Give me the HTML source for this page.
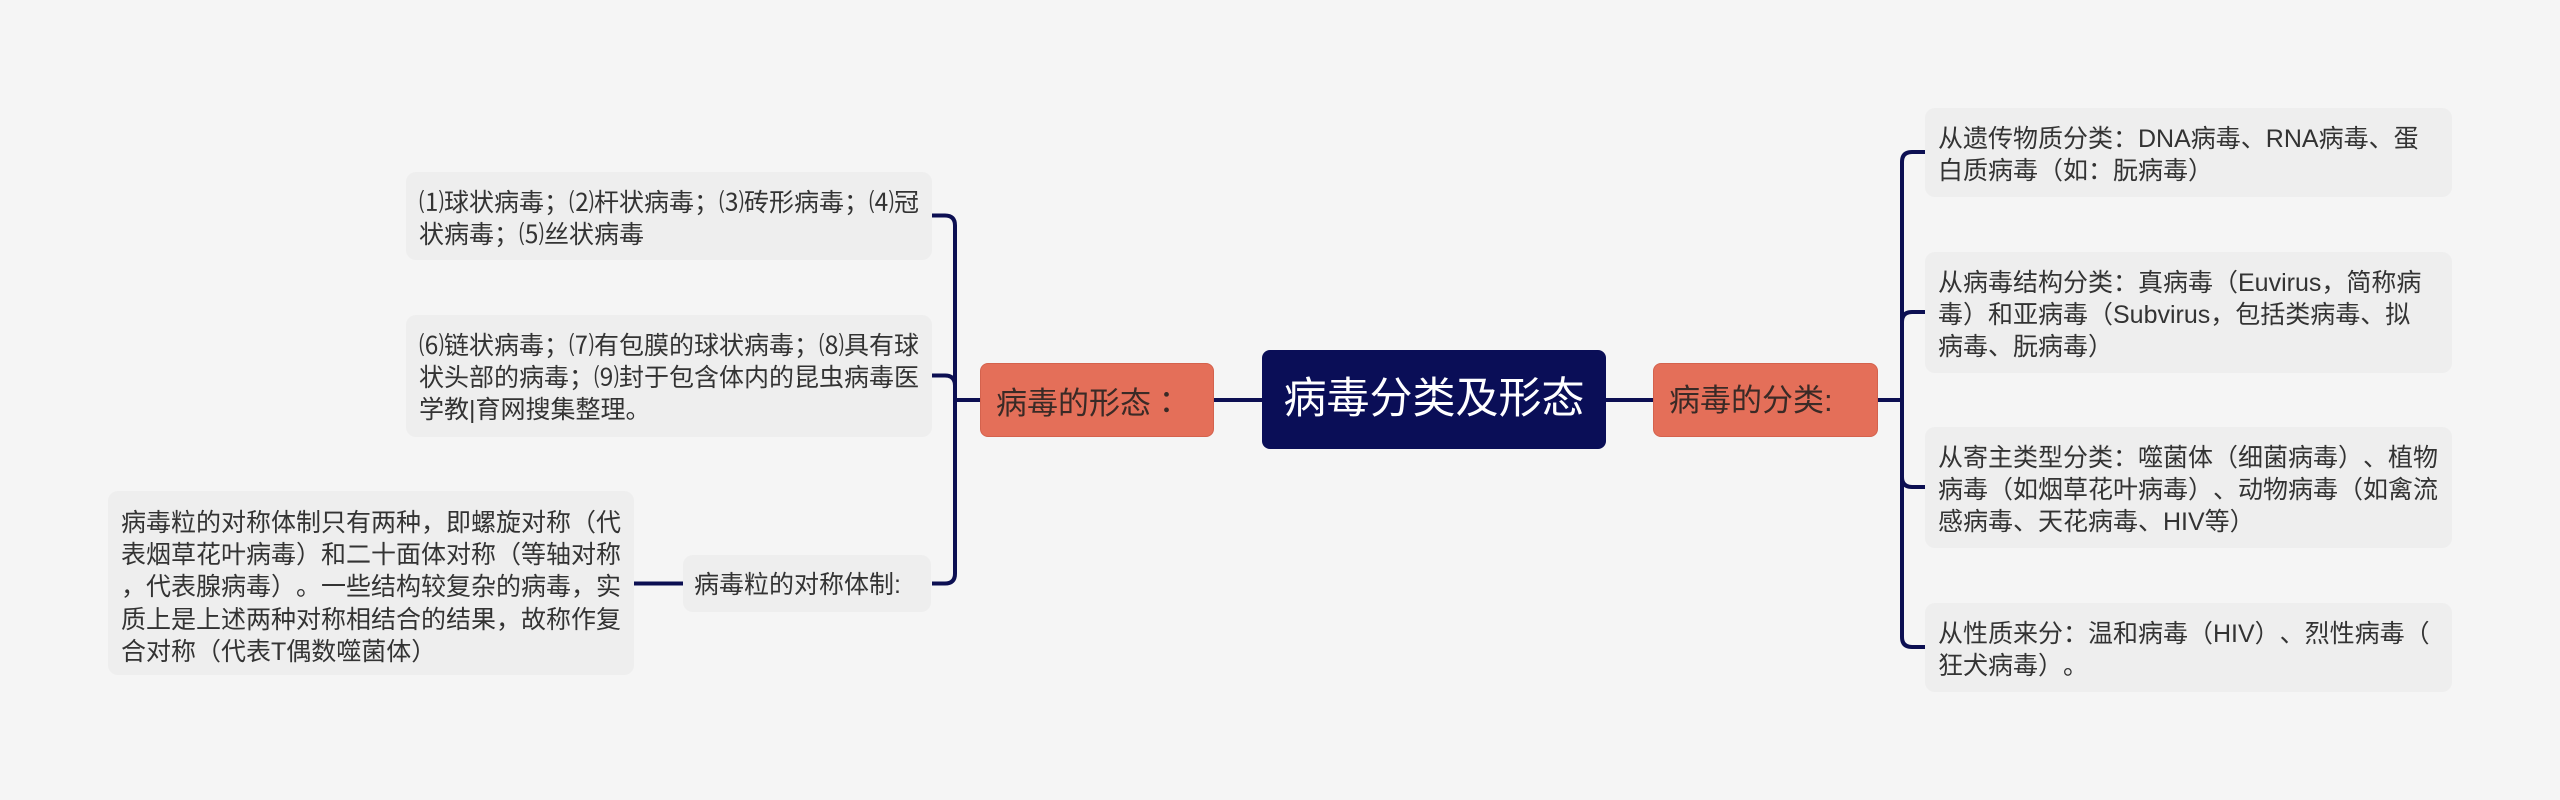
<!DOCTYPE html>
<html>
<head>
<meta charset="utf-8">
<style>
  html,body{margin:0;padding:0;}
  body{width:2560px;height:800px;background:#f5f5f5;position:relative;overflow:hidden;
       font-family:"Liberation Sans","Noto Sans CJK SC",sans-serif;text-spacing-trim:space-all;}
  .box{position:absolute;background:#eeeeee;border-radius:10px;box-sizing:border-box;
       color:#333;font-size:25px;line-height:32.2px;white-space:nowrap;padding:15px 0 0 13px;
       text-spacing-trim:space-all;}
  .node{position:absolute;box-sizing:border-box;border-radius:8px;white-space:nowrap;text-spacing-trim:space-all;}
  .branch{background:#e46f59;border:1px solid #d4624d;color:#3a2a26;font-size:31px;line-height:74px;}
  .center{background:#0a0e57;color:#fff;font-size:43px;line-height:99px;text-align:center;}
  .tc{font-family:"Noto Sans CJK TC",sans-serif;}
  svg{position:absolute;left:0;top:0;}
</style>
</head>
<body>
<svg width="2560" height="800" viewBox="0 0 2560 800">
  <g fill="none" stroke="#0c0f52" stroke-width="4" stroke-linecap="butt">
    <path d="M1212 400 H1264"/>
    <path d="M1604 400 H1655"/>
    <path d="M955 400 H982"/>
    <path d="M932 215.5 H945 Q955 215.5 955 225.5 V573.5 Q955 583.5 945 583.5 H932"/>
    <path d="M932 375.5 H945 Q955 375.5 955 385.5"/>
    <path d="M634 583.5 H684"/>
    <path d="M1876 400 H1902"/>
    <path d="M1925 152 H1912 Q1902 152 1902 162 V637 Q1902 647 1912 647 H1925"/>
    <path d="M1925 312 H1912 Q1902 312 1902 322"/>
    <path d="M1902 477 Q1902 487 1912 487 H1925"/>
  </g>
</svg>

<div class="node center" style="left:1262px;top:350px;width:344px;height:99px;">病毒分类及形态</div>

<div class="node branch" style="left:980px;top:363px;width:234px;height:74px;padding-left:15px;">病毒的形态<span class="tc">：</span></div>
<div class="node branch" style="left:1653px;top:363px;width:225px;height:74px;padding-left:15px;">病毒的分类:</div>

<div class="box" style="left:406px;top:172px;width:526px;height:88px;">⑴球状病毒；⑵杆状病毒；⑶砖形病毒；⑷冠<br>状病毒；⑸丝状病毒</div>
<div class="box" style="left:406px;top:315px;width:526px;height:122px;">⑹链状病毒；⑺有包膜的球状病毒；⑻具有球<br>状头部的病毒；⑼封于包含体内的昆虫病毒医<br>学教|育网搜集整理。</div>
<div class="box" style="left:683px;top:555px;width:248px;height:57px;padding-left:11px;padding-top:14px;">病毒粒的对称体制:</div>
<div class="box" style="left:108px;top:491px;width:526px;height:184px;padding-top:16px;">病毒粒的对称体制只有两种，即螺旋对称（代<br>表烟草花叶病毒）和二十面体对称（等轴对称<br>，代表腺病毒）。一些结构较复杂的病毒，实<br>质上是上述两种对称相结合的结果，故称作复<br>合对称（代表T偶数噬菌体）</div>

<div class="box" style="left:1925px;top:108px;width:527px;height:89px;">从遗传物质分类：DNA病毒、RNA病毒、蛋<br>白质病毒（如：朊病毒）</div>
<div class="box" style="left:1925px;top:252px;width:527px;height:121px;">从病毒结构分类：真病毒（Euvirus，简称病<br>毒）和亚病毒（Subvirus，包括类病毒、拟<br>病毒、朊病毒）</div>
<div class="box" style="left:1925px;top:427px;width:527px;height:121px;">从寄主类型分类：噬菌体（细菌病毒）、植物<br>病毒（如烟草花叶病毒）、动物病毒（如禽流<br>感病毒、天花病毒、HIV等）</div>
<div class="box" style="left:1925px;top:603px;width:527px;height:89px;">从性质来分：温和病毒（HIV）、烈性病毒（<br>狂犬病毒）。</div>
</body>
</html>
